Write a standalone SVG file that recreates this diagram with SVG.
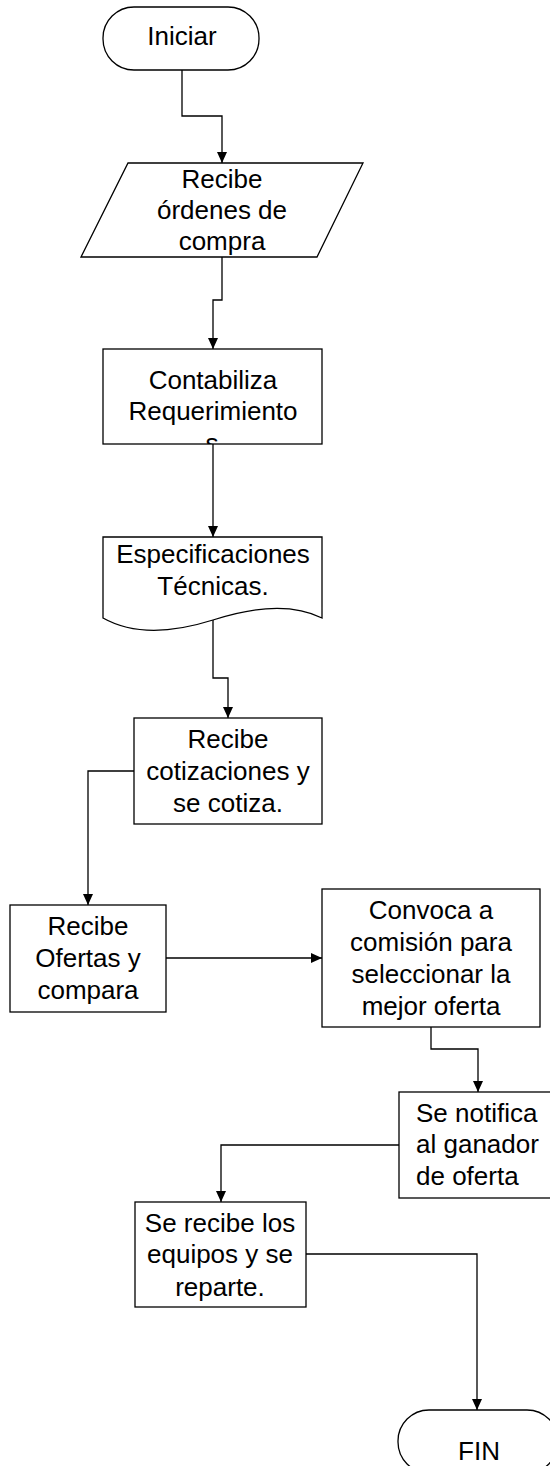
<svg xmlns="http://www.w3.org/2000/svg" width="550" height="1466" viewBox="0 0 550 1466">
<style>
.sh{fill:#fff;stroke:#000;stroke-width:1.3}
.t{font-family:"Liberation Sans",Arial,sans-serif;font-size:26px;fill:#000;text-anchor:middle}
.tl{text-anchor:start}
.c{fill:none;stroke:#000;stroke-width:1.3;marker-end:url(#arr)}
</style>
<defs>
<marker id="arr" markerWidth="11" markerHeight="10" viewBox="0 0 11 10" refX="11" refY="5" orient="auto" markerUnits="userSpaceOnUse">
<path d="M0,0 L11,5 L0,10 z" fill="#000"/>
</marker>
<clipPath id="clipS"><rect x="0" y="0" width="550" height="444"/></clipPath>
</defs>
<rect width="550" height="1466" fill="#fff"/>
<g id="connectors">
<path class="c" d="M182,70 V116 H222 V163"/>
<path class="c" d="M222,257 V300 H213 V349"/>
<path class="c" d="M213,444 V537"/>
<path class="c" d="M213,620 V678 H228 V718"/>
<path class="c" d="M134,771 H88 V905"/>
<path class="c" d="M166,958 H322"/>
<path class="c" d="M431,1027 V1049 H478 V1092"/>
<path class="c" d="M399,1145 H221 V1202"/>
<path class="c" d="M306,1254 H477 V1410"/>
</g>
<g id="iniciar">
<rect class="sh" x="103" y="7" width="156" height="63" rx="31" ry="31"/>
<text class="t" x="182" y="45">Iniciar</text>
</g>
<g id="recibe-ordenes">
<polygon class="sh" points="128,163 363,163 317,257 81,257"/>
<text class="t" x="222" y="188">Recibe</text>
<text class="t" x="222" y="219">órdenes de</text>
<text class="t" x="222" y="250">compra</text>
</g>
<g id="contabiliza">
<rect class="sh" x="103" y="349" width="219" height="95"/>
<text class="t" x="213" y="389">Contabiliza</text>
<text class="t" x="213" y="420">Requerimiento</text>
<text class="t" x="212" y="451.5" clip-path="url(#clipS)">s</text>
</g>
<g id="especificaciones">
<path class="sh" d="M103,618 V537 H322 V618 C290,602 250,608 213,620 C175,632 135,636 103,618 Z"/>
<text class="t" x="213" y="563">Especificaciones</text>
<text class="t" x="213" y="595">Técnicas.</text>
</g>
<g id="recibe-cotizaciones">
<rect class="sh" x="134" y="718" width="188" height="106"/>
<text class="t" x="228" y="748">Recibe</text>
<text class="t" x="228" y="780">cotizaciones y</text>
<text class="t" x="228" y="812">se cotiza.</text>
</g>
<g id="recibe-ofertas">
<rect class="sh" x="10" y="905" width="156" height="107"/>
<text class="t" x="88" y="935">Recibe</text>
<text class="t" x="88" y="967">Ofertas y</text>
<text class="t" x="88" y="999">compara</text>
</g>
<g id="convoca">
<rect class="sh" x="322" y="889" width="218" height="138"/>
<text class="t" x="431" y="919">Convoca a</text>
<text class="t" x="431" y="951">comisión para</text>
<text class="t" x="431" y="983">seleccionar la</text>
<text class="t" x="431" y="1015">mejor oferta</text>
</g>
<g id="notifica">
<rect class="sh" x="399" y="1092" width="160" height="106"/>
<text class="t tl" x="416" y="1122">Se notifica</text>
<text class="t tl" x="416" y="1153">al ganador</text>
<text class="t tl" x="416" y="1185">de oferta</text>
</g>
<g id="recibe-equipos">
<rect class="sh" x="135" y="1202" width="171" height="105"/>
<text class="t" x="220" y="1232">Se recibe los</text>
<text class="t" x="220" y="1263">equipos y se</text>
<text class="t" x="220" y="1296">reparte.</text>
</g>
<g id="fin">
<rect class="sh" x="398" y="1410" width="160" height="63" rx="31" ry="31"/>
<text class="t" x="479" y="1460">FIN</text>
</g>
</svg>
